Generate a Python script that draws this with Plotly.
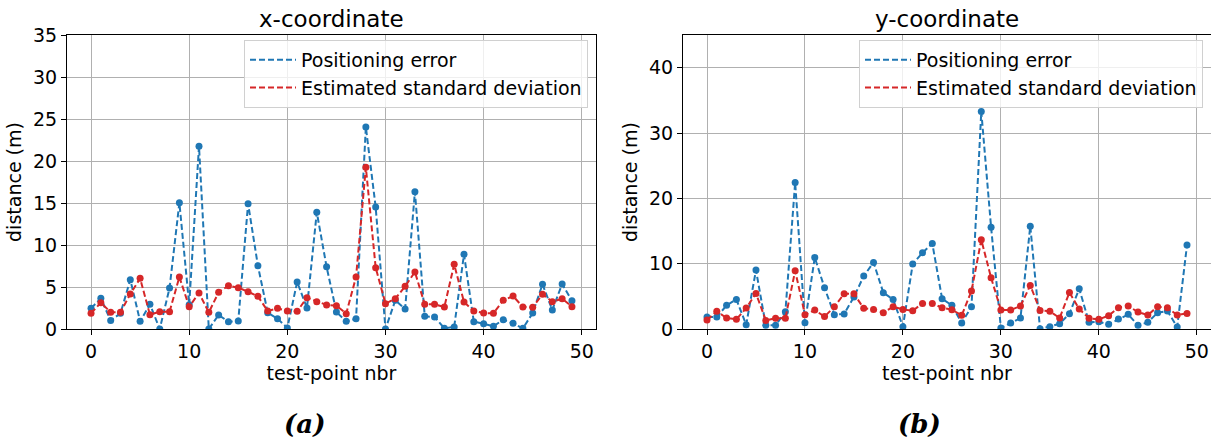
import plotly.graph_objects as go

test_points = list(range(50))

err_x = [2.46, 3.65, 1.0, 1.87, 5.87, 0.91, 2.94, 0.0, 4.88, 15.04,
         2.9, 21.75, 0.0, 1.67, 0.87, 0.95, 14.92, 7.54, 1.94, 1.23,
         0.12, 5.6, 2.5, 13.9, 7.4, 2.02, 0.91, 1.23, 24.05, 14.52,
         0.0, 3.41, 2.38, 16.35, 1.51, 1.43, 0.08, 0.24, 8.89, 0.87,
         0.63, 0.32, 1.11, 0.67, 0.08, 1.9, 5.32, 2.26, 5.36, 3.37]
std_x = [1.87, 3.13, 2.0, 2.0, 4.17, 6.03, 1.7, 2.06, 2.06, 6.19,
         2.65, 4.29, 1.98, 4.37, 5.16, 4.92, 4.44, 3.89, 2.14, 2.46,
         2.14, 2.1, 3.73, 3.25, 2.86, 2.78, 1.83, 6.19, 19.25, 7.3,
         3.02, 3.61, 5.08, 6.79, 2.94, 2.94, 2.62, 7.7, 3.21, 2.14,
         1.9, 1.87, 3.41, 3.93, 2.62, 2.58, 4.13, 3.25, 3.61, 2.66]
err_y = [1.83, 1.83, 3.62, 4.53, 0.66, 9.02, 0.56, 0.56, 2.65, 22.41,
         0.96, 10.95, 6.3, 2.2, 2.3, 4.9, 8.1, 10.19, 5.55, 4.53,
         0.36, 9.93, 11.67, 13.09, 4.64, 3.62, 0.92, 3.41, 33.3, 15.59,
         0.15, 0.92, 1.68, 15.74, 0.05, 0.36, 0.82, 2.34, 6.16, 1.02,
         1.12, 0.71, 1.53, 2.24, 0.56, 1.02, 2.5, 2.75, 0.31, 12.84]
std_y = [1.38, 2.7, 1.68, 1.48, 3.21, 5.45, 1.32, 1.63, 1.63, 8.91,
         2.2, 2.9, 1.9, 3.4, 5.4, 5.4, 3.16, 3.0, 2.5, 3.41,
         3.0, 2.8, 3.92, 3.92, 3.26, 2.95, 2.09, 5.81, 13.65, 7.85,
         2.9, 2.9, 3.52, 6.67, 2.85, 2.7, 1.68, 5.6, 3.06, 1.63,
         1.48, 2.04, 3.26, 3.52, 2.6, 2.14, 3.41, 3.26, 2.14, 2.39]

titles = ["x-coordinate", "y-coordinate"]
series_names = ["Positioning error", "Estimated standard deviation"]
panel_labels = ["(a)", "(b)"]
x_label = "test-point nbr"
y_label = "distance (m)"

BLUE = "#1f77b4"
RED = "#d62728"
FONT = "DejaVu Sans"
FS = 19

W, H = 1211, 438
ML, MR, MT, MB = 67, 0, 35, 109
PW = W - ML - MR
PH = H - MT - MB


def px_x(p):
    return (p - ML) / PW


def px_y(p):
    return (H - MB - p) / PH


dom1 = [0.0, px_x(596)]
dom2 = [px_x(683), 1.0]

fig = go.Figure()

panels = [(err_x, std_x, "x", "y", "legend"), (err_y, std_y, "x2", "y2", "legend2")]
for err, std, xa, ya, lg in panels:
    for vals, col in ((err, BLUE), (std, RED)):
        fig.add_trace(go.Scatter(
            x=test_points, y=vals, xaxis=xa, yaxis=ya, mode="lines+markers",
            line=dict(color=col, width=2, dash="6px,3px"),
            marker=dict(color=col, size=7),
            showlegend=False, hoverinfo="skip"))
    for name, col in zip(series_names, (BLUE, RED)):
        fig.add_trace(go.Scatter(
            x=[None], y=[None], xaxis=xa, yaxis=ya, mode="lines", name=name,
            line=dict(color=col, width=2, dash="6px,3px"), legend=lg))

axis_common = dict(
    showline=True, linecolor="black", linewidth=1, mirror=True,
    ticks="outside", ticklen=5, tickcolor="black", tickwidth=1,
    showgrid=True, gridcolor="#b0b0b0", gridwidth=1, zeroline=False,
    tickfont=dict(family=FONT, size=FS, color="black"),
)

legend_common = dict(
    xanchor="right", yanchor="top",
    bgcolor="rgba(255,255,255,0.8)", bordercolor="#d0d0d0", borderwidth=1,
    font=dict(family=FONT, size=FS), itemwidth=46, tracegroupgap=0,
)

fig.update_layout(
    width=W, height=H,
    margin=dict(l=ML, r=MR, t=MT, b=MB),
    paper_bgcolor="white", plot_bgcolor="white",
    font=dict(family=FONT, size=FS, color="black"),
    xaxis=dict(domain=dom1, range=[-2.45, 51.45], tickvals=[0, 10, 20, 30, 40, 50],
               title=dict(text=x_label, font=dict(size=FS), standoff=2), anchor="y", **axis_common),
    yaxis=dict(domain=[0, 1], range=[0, 35], tickvals=[0, 5, 10, 15, 20, 25, 30, 35],
               title=dict(text=y_label, font=dict(size=FS), standoff=6), anchor="x", **axis_common),
    xaxis2=dict(domain=dom2, range=[-2.45, 51.45], tickvals=[0, 10, 20, 30, 40, 50],
                title=dict(text=x_label, font=dict(size=FS), standoff=2), anchor="y2", **axis_common),
    yaxis2=dict(domain=[0, 1], range=[0, 45], tickvals=[0, 10, 20, 30, 40],
                title=dict(text=y_label, font=dict(size=FS), standoff=6), anchor="x2", **axis_common),
    legend=dict(x=px_x(588), y=px_y(40), **legend_common),
    legend2=dict(x=px_x(1203), y=px_y(40), **legend_common),
)

annotations = []
for dom, t, lab in ((dom1, titles[0], panel_labels[0]), (dom2, titles[1], panel_labels[1])):
    cx = (dom[0] + dom[1]) / 2
    annotations.append(dict(text=t, x=cx, y=1, xref="paper", yref="paper",
                            xanchor="center", yanchor="bottom", yshift=1, showarrow=False,
                            font=dict(family=FONT, size=23, color="black")))
    annotations.append(dict(text="<b><i>" + lab + "</i></b>", x=cx - 27 / PW, y=px_y(424),
                            xref="paper", yref="paper",
                            xanchor="center", yanchor="middle", showarrow=False,
                            font=dict(family="DejaVu Serif", size=26, color="black")))
fig.update_layout(annotations=annotations)

fig.write_html("out.html")
